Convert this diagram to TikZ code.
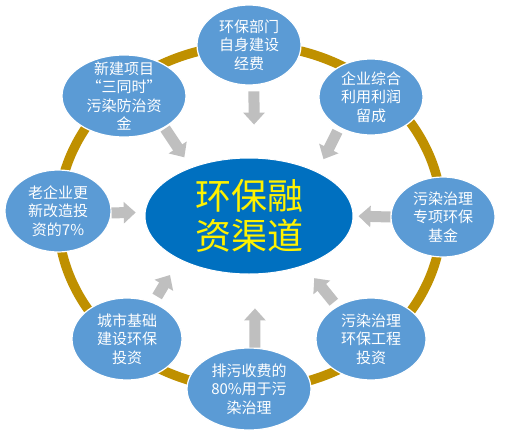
\documentclass[tikz,border=0pt]{standalone}
\usepackage{fontspec}
\newfontfamily\cjkfont{Noto Sans CJK SC}
\usetikzlibrary{arrows.meta, shapes.geometric, positioning}
\definecolor{hubblue}{HTML}{0070C0}
\definecolor{srcblue}{HTML}{5B9BD5}
\definecolor{ringgold}{HTML}{BF9000}
\definecolor{flowgray}{HTML}{BFBFBF}

\begin{document}
\begin{tikzpicture}[x=1pt, y=-1pt]
	\tikzset{%
		hubnode/.style={ellipse, fill=hubblue, draw=white, line width=1pt, minimum width=208pt, minimum height=116pt, inner sep=-4pt, align=center, text=yellow, font=\cjkfont\fontsize{36}{40}\selectfont},
		srcnode/.style={ellipse, fill=srcblue, draw=white, line width=1.2pt, minimum width=106pt, minimum height=80pt, inner sep=-10pt, align=center, text=white, font=\cjkfont\fontsize{15}{18.5}\selectfont},
		flow/.style={draw=flowgray, line width=11pt, -{Triangle[width=21pt, length=12pt]}}
	}
	\useasboundingbox (0,0) rectangle (506,434);
	% ring behind the sources
	\draw[ringgold, line width=9.5pt] (250,217) ellipse [x radius=192pt, y radius=172pt];

	\node[hubnode] (hub) at (249,216) {环保融\\资渠道};
	\node[srcnode, minimum width=104pt] (top) at (249,45) {环保部门\\自身建设\\经费};
	\node[srcnode, minimum width=104pt, minimum height=76pt] (tr) at (371,97) {企业综合\\利用利润\\留成};
	\node[srcnode, minimum width=104pt] (rt) at (443,217) {污染治理\\专项环保\\基金};
	\node[srcnode, minimum width=110pt, minimum height=82pt] (br) at (371,339) {污染治理\\环保工程\\投资};
	\node[srcnode, minimum width=124pt, minimum height=82pt] (bt) at (249,389) {排污收费的\\80\%用于污\\染治理};
	\node[srcnode, minimum width=110pt, minimum height=82pt] (bl) at (127,339) {城市基础\\建设环保\\投资};
	\node[srcnode, minimum height=82pt] (lt) at (58,211) {老企业更\\新改造投\\资的7\%};
	\node[srcnode, minimum width=124pt, minimum height=82pt] (tl) at (124,96) {新建项目\\“三同时”\\污染防治资\\金};

	% flows into the hub
	\draw[flow, shorten <=6pt, shorten >=33pt] (top.-83) -- (hub.85);
	\draw[flow, shorten <=4pt, shorten >=14pt] (tr.224) -- (hub.33);
	\draw[flow, shorten >=5pt] (rt.west) -- (hub.east);
	\draw[flow, shorten <=5pt, shorten >=16pt] (br.136) -- (hub.-42);
	\draw[flow, shorten >=34pt] (bt.82) -- (hub.-84);
	\draw[flow, shorten <=7pt, shorten >=18pt] (bl.54) -- (hub.-148);
	\draw[flow, shorten >=9pt] (lt.-2) -- (hub.178);
	\draw[flow, shorten <=1pt, shorten >=12pt] (tl.-38) -- (hub.140);
\end{tikzpicture}
\end{document}
